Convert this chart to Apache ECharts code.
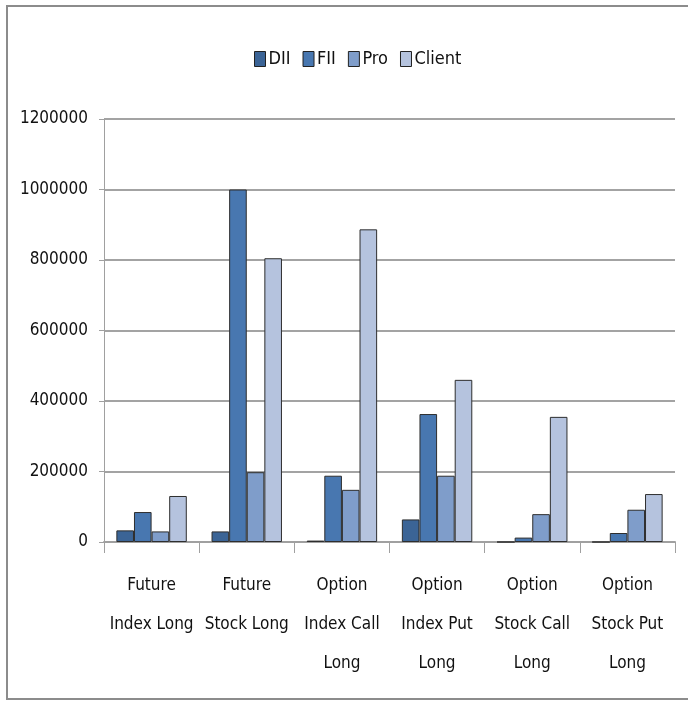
<!DOCTYPE html>
<html>
<head>
<meta charset="utf-8">
<script src="https://cdn.jsdelivr.net/npm/echarts@6/dist/echarts.min.js"></script>
<style>
  html, body { margin: 0; padding: 0; background: #fff; }
  #chart { width: 688px; height: 702px; }
</style>
</head>
<body>
<div id="chart"></div>
<script>
// Long open interest by participant type
const categories = [
  'Future\nIndex Long',
  'Future\nStock Long',
  'Option\nIndex Call\nLong',
  'Option\nIndex Put\nLong',
  'Option\nStock Call\nLong',
  'Option\nStock Put\nLong'
];
const seriesNames = ['DII', 'FII', 'Pro', 'Client'];
const dii    = [33000, 30000, 4000, 64000, 0, 0];
const fii    = [85000, 1000000, 188000, 363000, 12500, 25500];
const pro    = [30000, 198000, 148000, 188000, 79000, 91500];
const client = [130500, 805000, 887000, 460000, 355000, 136000];
const yTicks = [0, 200000, 400000, 600000, 800000, 1000000, 1200000];

const colors = ['#3b6496', '#4877b0', '#7f9dca', '#b5c3de'];
const seriesValues = [dii, fii, pro, client];
const FONT = '"DejaVu Sans Condensed", "Liberation Sans", sans-serif';

const chart = echarts.init(document.getElementById('chart'), null, { renderer: 'canvas' });

chart.setOption({
  backgroundColor: '#ffffff',
  animation: false,
  color: colors,
  graphic: [{
    type: 'rect',
    shape: { x: 7, y: 6, width: 720, height: 693 },
    style: { fill: 'none', stroke: '#8c8c8c', lineWidth: 2 },
    silent: true
  }],
  legend: {
    left: 249,
    top: 45,
    itemWidth: 11,
    itemHeight: 15,
    itemGap: 12,
    icon: 'rect',
    data: seriesNames,
    itemStyle: { borderColor: '#222', borderWidth: 1 },
    textStyle: { fontFamily: FONT, fontSize: 18, color: '#111', padding: [0, 0, 0, -2] }
  },
  grid: { left: 104, right: 13, top: 119, bottom: 160, containLabel: false },
  xAxis: {
    type: 'category',
    data: categories,
    axisLine: { show: true, lineStyle: { color: '#a0a0a0', width: 2 } },
    axisTick: { show: true, length: 11, alignWithLabel: false, lineStyle: { color: '#a0a0a0', width: 1 } },
    axisLabel: {
      interval: 0,
      margin: 24,
      fontFamily: FONT,
      fontSize: 17,
      lineHeight: 39,
      color: '#111'
    }
  },
  yAxis: {
    type: 'value',
    min: 0,
    max: 1200000,
    interval: 200000,
    axisLine: { show: true, lineStyle: { color: '#a0a0a0', width: 1 } },
    axisTick: { show: true, length: 5, lineStyle: { color: '#a0a0a0' } },
    splitLine: { show: true, lineStyle: { color: '#a3a3a3', width: 2 } },
    axisLabel: {
      margin: 16,
      fontFamily: FONT,
      fontSize: 17,
      color: '#111',
      formatter: v => (yTicks.indexOf(v) >= 0 ? String(v) : '')
    }
  },
  series: seriesNames.map((name, i) => ({
    name: name,
    type: 'bar',
    data: seriesValues[i],
    barGap: '0%',
    barCategoryGap: '26%',
    itemStyle: { color: colors[i], borderColor: '#2e2e2e', borderWidth: 1 }
  }))
});
</script>
</body>
</html>
